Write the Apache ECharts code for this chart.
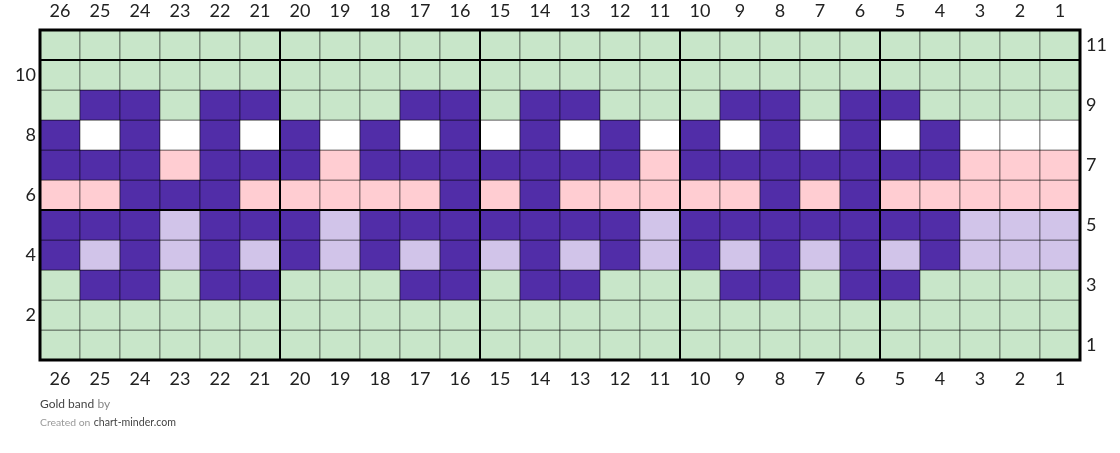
<!DOCTYPE html>
<html>
<head>
<meta charset="utf-8">
<script src="https://cdn.jsdelivr.net/npm/echarts@6/dist/echarts.min.js"></script>
<style>html,body{margin:0;padding:0;background:#fff;}#chart{width:1120px;height:453px;}</style>
</head>
<body>
<div id="chart"></div>
<script>
// Stitch numbers, left to right
const stitchLabels = ['26','25','24','23','22','21','20','19','18','17','16','15','14','13','12','11','10','9','8','7','6','5','4','3','2','1'];
// Row numbers, bottom to top
const rowLabels = ['1','2','3','4','5','6','7','8','9','10','11'];
// Colour keys per row (stitch 26 -> stitch 1), listed from row 11 down to row 1
const row11 = 'GGGGGGGGGGGGGGGGGGGGGGGGGG';
const row10 = 'GGGGGGGGGGGGGGGGGGGGGGGGGG';
const row9  = 'GPPGPPGGGPPGPPGGGPPGPPGGGG';
const row8  = 'PWPWPWPWPWPWPWPWPWPWPWPWWW';
const row7  = 'PPPKPPPKPPPPPPPKPPPPPPPKKK';
const row6  = 'KKPPPKKKKKPKPKKKKKPKPKKKKK';
const row5  = 'PPPLPPPLPPPPPPPLPPPPPPPLLL';
const row4  = 'PLPLPLPLPLPLPLPLPLPLPLPLLL';
const row3  = 'GPPGPPGGGPPGPPGGGPPGPPGGGG';
const row2  = 'GGGGGGGGGGGGGGGGGGGGGGGGGG';
const row1  = 'GGGGGGGGGGGGGGGGGGGGGGGGGG';
const rowsBottomUp = [row1,row2,row3,row4,row5,row6,row7,row8,row9,row10,row11];
const colourKey = {G:'#c8e6c9', P:'#512da8', W:'#ffffff', K:'#ffcdd2', L:'#d1c4e9'};
// Thick guide lines: left edge of these stitches, top edge of these rows
const thickStitches = [20,15,10,5];
const thickRows = [5,10];

const cells = [];
rowsBottomUp.forEach((str, r) => {
  for (let c = 0; c < str.length; c++) cells.push([c, r, str[c]]);
});

const chart = echarts.init(document.getElementById('chart'), null, {renderer:'canvas'});
const labelFont = {fontFamily:'Lato', fontSize:18, color:'#222'};

function renderCell(params, api) {
  const p = api.coord([api.value(0), api.value(1)]);
  const s = api.size([1,1]);
  const code = cells[params.dataIndex][2];
  return {
    type:'rect',
    shape:{x:p[0]-s[0]/2, y:p[1]-s[1]/2, width:s[0], height:s[1]},
    style:{fill:colourKey[code], stroke:'rgba(0,0,0,0.45)', lineWidth:1}
  };
}

function renderThick(params, api) {
  const s = api.size([1,1]);
  const nC = stitchLabels.length, nR = rowLabels.length;
  const left = api.coord([0,0])[0] - s[0]/2;
  const right = api.coord([nC-1,0])[0] + s[0]/2;
  const bottom = api.coord([0,0])[1] + s[1]/2;
  const top = api.coord([0,nR-1])[1] - s[1]/2;
  const children = [];
  thickStitches.forEach(n => {
    const i = stitchLabels.indexOf(String(n));
    const x = api.coord([i,0])[0] - s[0]/2;
    children.push({type:'line', shape:{x1:x,y1:top,x2:x,y2:bottom}, style:{stroke:'#000', lineWidth:2}});
  });
  thickRows.forEach(rw => {
    const j = rowLabels.indexOf(String(rw));
    const y = api.coord([0,j])[1] - s[1]/2;
    children.push({type:'line', shape:{x1:left,y1:y,x2:right,y2:y}, style:{stroke:'#000', lineWidth:2}});
  });
  children.push({type:'rect', shape:{x:left,y:top,width:right-left,height:bottom-top}, style:{fill:null, stroke:'#000', lineWidth:3}});
  return {type:'group', children};
}

chart.setOption({
  animation:false,
  backgroundColor:'#fff',
  grid:{left:40, right:40, top:30, bottom:93},
  xAxis:[
    {type:'category', data:stitchLabels, position:'bottom', axisLine:{show:false}, axisTick:{show:false}, splitLine:{show:false},
     axisLabel:Object.assign({margin:10, interval:0}, labelFont)},
    {type:'category', data:stitchLabels, position:'top', axisLine:{show:false}, axisTick:{show:false}, splitLine:{show:false},
     axisLabel:Object.assign({margin:10, interval:0}, labelFont)}
  ],
  yAxis:[
    {type:'category', data:rowLabels, position:'left', axisLine:{show:false}, axisTick:{show:false}, splitLine:{show:false},
     axisLabel:Object.assign({margin:4, interval:function(i,v){return Number(v)%2===0;}}, labelFont)},
    {type:'category', data:rowLabels, position:'right', axisLine:{show:false}, axisTick:{show:false}, splitLine:{show:false},
     axisLabel:Object.assign({margin:6, interval:function(i,v){return Number(v)%2===1;}}, labelFont)}
  ],
  graphic:[
    {type:'text', left:40, top:398, style:{text:'{a|Gold band} {b|by}', rich:{
      a:{fontFamily:'Lato', fontSize:12, fill:'#444'}, b:{fontFamily:'Lato', fontSize:12, fill:'#888'}}}},
    {type:'text', left:40, top:417, style:{text:'{b|Created on} {a|chart-minder.com}', rich:{
      a:{fontFamily:'Lato', fontSize:10.6, fill:'#444'}, b:{fontFamily:'Lato', fontSize:10.4, fill:'#999'}}}}
  ],
  series:[
    {type:'custom', xAxisIndex:0, yAxisIndex:0, renderItem:renderCell, data:cells.map(d=>[d[0],d[1]]), encode:{x:0,y:1}, clip:false, z:2},
    {type:'custom', xAxisIndex:0, yAxisIndex:0, renderItem:renderThick, data:[[0,0]], encode:{x:0,y:1}, clip:false, z:3, silent:true}
  ]
});
</script>
</body>
</html>
